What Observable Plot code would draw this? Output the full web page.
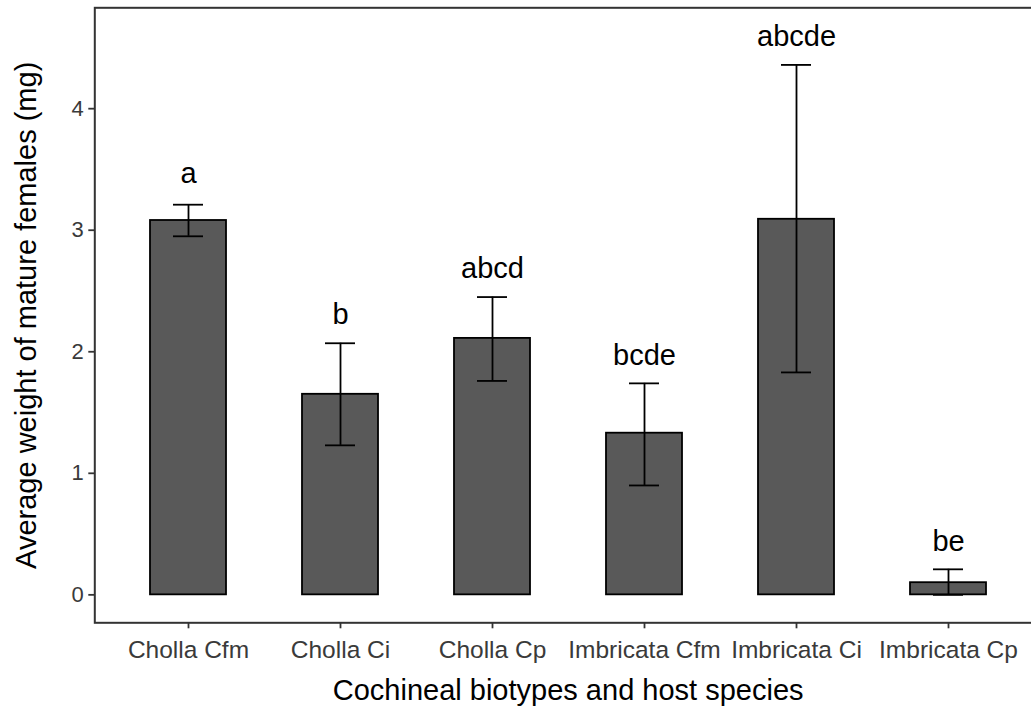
<!DOCTYPE html>
<html>
<head>
<meta charset="utf-8">
<script src="https://cdn.jsdelivr.net/npm/d3@7"></script>
<script src="https://cdn.jsdelivr.net/npm/@observablehq/plot@0.6"></script>
<style>
  html, body { margin: 0; padding: 0; background: #fff; }
  #chart svg { display: block; }
</style>
</head>
<body>
<div id="chart"></div>
<script>
// Mean weight of mature cochineal females by biotype and host, with error bars
const categories = ["Cholla Cfm", "Cholla Ci", "Cholla Cp", "Imbricata Cfm", "Imbricata Ci", "Imbricata Cp"];
const means = [3.08, 1.65, 2.11, 1.33, 3.09, 0.10];
const lower = [2.95, 1.23, 1.76, 0.90, 1.83, 0.00];
const upper = [3.21, 2.07, 2.45, 1.74, 4.36, 0.21];
const letters = ["a", "b", "abcd", "bcde", "abcde", "be"];
const yTicks = [0, 1, 2, 3, 4];

const xTitle = "Cochineal biotypes and host species";
const yTitle = "Average weight of mature females (mg)";

// letters sit a fixed distance above each error bar
const letterGap = 0.24;
const rows = categories.map((c, i) => ({
  cat: c, mean: means[i], lo: lower[i], hi: upper[i],
  letter: letters[i], ly: upper[i] + letterGap
}));

// ggplot-style 5% expansion of the continuous range
const yMax = d3.max(rows, d => d.ly);
const yMin = 0;
const pad = 0.05 * (yMax - yMin);

const font = "'Liberation Sans', Arial, Helvetica, sans-serif";
const tall = /[bdfhklt]/;

const chart = Plot.plot({
  width: 1031,
  height: 706,
  marginLeft: 94.3,
  marginRight: -10,
  marginTop: 7.3,
  marginBottom: 83.7,
  style: { fontFamily: font, background: "#fff" },
  x: { type: "band", domain: categories, range: [96, 1040], paddingInner: 0.5, paddingOuter: 0.35, align: 0.5 },
  y: { domain: [yMin - pad, yMax + pad] },
  marks: [
    Plot.barY(rows, { x: "cat", y: "mean", fill: "#595959", stroke: "#000", strokeWidth: 1.8 }),
    Plot.ruleX(rows, { x: "cat", y1: "lo", y2: "hi", stroke: "#000", strokeWidth: 1.8 }),
    Plot.tickY(rows, { x: "cat", y: "hi", stroke: "#000", strokeWidth: 1.8, insetLeft: 23, insetRight: 23 }),
    Plot.tickY(rows, { x: "cat", y: "lo", stroke: "#000", strokeWidth: 1.8, insetLeft: 23, insetRight: 23 }),
    // letters with ascenders are centred on cap height, the rest on x-height
    Plot.text(rows.filter(d => tall.test(d.letter)), {
      x: "cat", y: "ly", text: "letter", fontSize: 29, fill: "#000",
      lineAnchor: "bottom", dy: 10.4
    }),
    Plot.text(rows.filter(d => !tall.test(d.letter)), {
      x: "cat", y: "ly", text: "letter", fontSize: 29, fill: "#000",
      lineAnchor: "bottom", dy: 7.5
    }),
    Plot.frame({ stroke: "#333", strokeWidth: 2 }),
    Plot.axisY({ ticks: yTicks, tickFormat: d => String(d), tickSize: 6, tickPadding: 5, fontSize: 22,
      stroke: "#333", strokeWidth: 1.8, fill: "#3a3a3a", label: null }),
    Plot.axisX({ tickSize: 6, tickPadding: 12, fontSize: 24.5, stroke: "#333", strokeWidth: 1.8,
      fill: "#3a3a3a", label: null }),
    Plot.text([xTitle], { frameAnchor: "bottom", text: d => d, fontSize: 29, fill: "#000",
      lineAnchor: "bottom", dy: 77 }),
    Plot.text([yTitle], { frameAnchor: "left", text: d => d, fontSize: 29, fill: "#000",
      rotate: -90, textAnchor: "middle", lineAnchor: "bottom", dx: -59 })
  ]
});

document.getElementById("chart").appendChild(chart);
</script>
</body>
</html>
